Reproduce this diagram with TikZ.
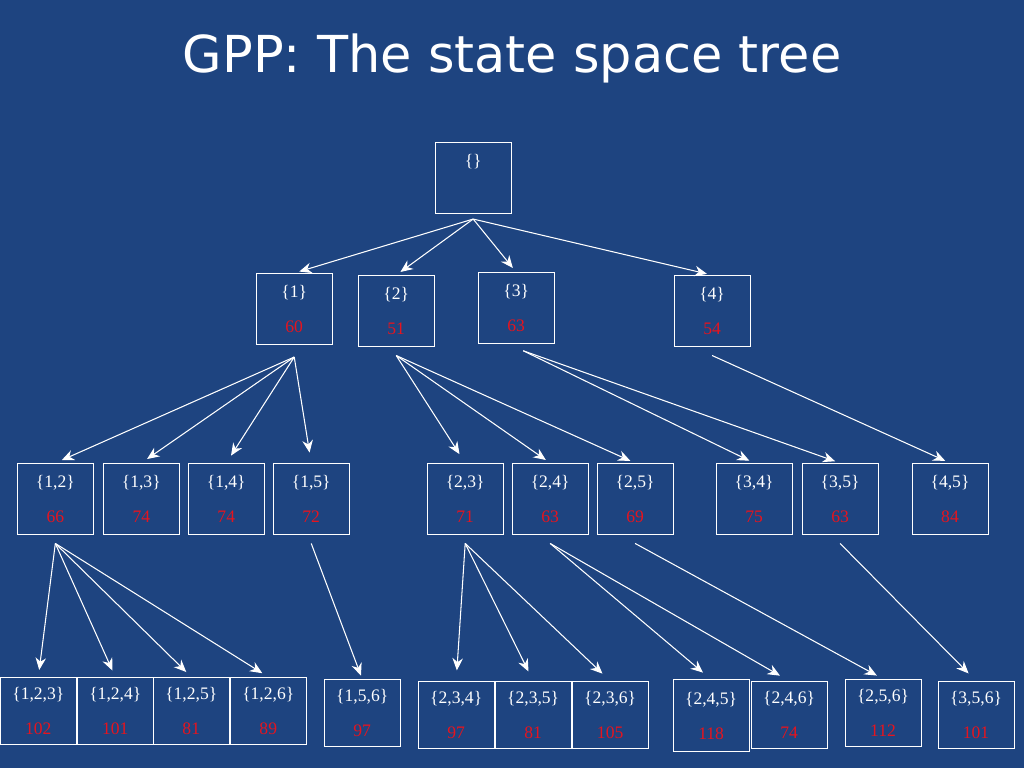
\documentclass[tikz,border=0pt]{standalone}
\usepackage{fontspec}
\setmainfont{Liberation Serif}
\newfontfamily\titlefont{DejaVu Sans}
\usetikzlibrary{arrows.meta}
\definecolor{bgblue}{RGB}{30,68,128}
\definecolor{numred}{RGB}{230,20,30}
\newcommand{\stlab}[2]{\{#1\}\\[9pt]{\color{numred}#2}}
\begin{document}
\begin{tikzpicture}[x=0.02cm,y=-0.02cm]
    \tikzset{state/.style={draw=white,thin,rectangle,align=center,text=white,
        font=\fontsize{10}{11}\selectfont,minimum width=1.52cm,minimum height=1.42cm,inner sep=0pt},
      arr/.style={-{Stealth[length=7pt,width=6pt]},white,line width=0.6pt}}
    \fill[bgblue] (0,0) rectangle (1024,768);
    \node [white,font=\titlefont\fontsize{29}{30}\selectfont] (title) at (512,58) {GPP: The state space tree};
    % root and first level
    \node [state] (root) at (473,178) {};
    \node [white,font=\fontsize{10}{11}\selectfont] (rootlab) at (473,162) {\{\}};
    \node [state] (n1) at (294,309) {\stlab{1}{60}};
    \node [state] (n2) at (396,311) {\stlab{2}{51}};
    \node [state] (n3) at (516,308) {\stlab{3}{63}};
    \node [state] (n4) at (712,311) {\stlab{4}{54}};
    % second level
    \node [state] (n12) at (55,499) {\stlab{1,2}{66}};
    \node [state] (n13) at (141,499) {\stlab{1,3}{74}};
    \node [state] (n14) at (226,499) {\stlab{1,4}{74}};
    \node [state] (n15) at (311,499) {\stlab{1,5}{72}};
    \node [state] (n23) at (465,499) {\stlab{2,3}{71}};
    \node [state] (n24) at (550,499) {\stlab{2,4}{63}};
    \node [state] (n25) at (635,499) {\stlab{2,5}{69}};
    \node [state] (n34) at (754,499) {\stlab{3,4}{75}};
    \node [state] (n35) at (840,499) {\stlab{3,5}{63}};
    \node [state] (n45) at (950,499) {\stlab{4,5}{84}};
    % third level
    \node [state,minimum height=1.34cm] (n123) at (38,711) {\stlab{1,2,3}{102}};
    \node [state,minimum height=1.34cm] (n124) at (115,711) {\stlab{1,2,4}{101}};
    \node [state,minimum height=1.34cm] (n125) at (191,711) {\stlab{1,2,5}{81}};
    \node [state,minimum height=1.34cm] (n126) at (268,711) {\stlab{1,2,6}{89}};
    \node [state,minimum height=1.34cm] (n156) at (362,713) {\stlab{1,5,6}{97}};
    \node [state,minimum height=1.34cm] (n234) at (456,715) {\stlab{2,3,4}{97}};
    \node [state,minimum height=1.34cm] (n235) at (533,715) {\stlab{2,3,5}{81}};
    \node [state,minimum height=1.34cm] (n236) at (610,715) {\stlab{2,3,6}{105}};
    \node [state,minimum height=1.44cm] (n245) at (711,716) {\stlab{2,4,5}{118}};
    \node [state,minimum height=1.34cm] (n246) at (789,715) {\stlab{2,4,6}{74}};
    \node [state,minimum height=1.34cm] (n256) at (883,713) {\stlab{2,5,6}{112}};
    \node [state,minimum height=1.34cm] (n356) at (976,715) {\stlab{3,5,6}{101}};

    \draw [arr,shorten >=3pt] ([yshift=-3pt]root.south) -- (n1.north);
    \draw [arr,shorten >=3pt] ([yshift=-3pt]root.south) -- (n2.north);
    \draw [arr,shorten >=3pt] ([yshift=-3pt]root.south) -- (n3.north);
    \draw [arr,shorten >=3pt] ([yshift=-3pt]root.south) -- (n4.north);
    \draw [arr,shorten >=4pt] ([yshift=-7pt]n1.south) -- (n12.north);
    \draw [arr,shorten >=4pt] ([yshift=-7pt]n1.south) -- (n13.north);
    \draw [arr,shorten >=5pt] ([yshift=-7pt]n1.south) -- (n14.north);
    \draw [arr,shorten >=6pt] ([yshift=-7pt]n1.south) -- (n15.north);
    \draw [arr,shorten >=6pt] ([yshift=-5pt]n2.south) -- (n23.north);
    \draw [arr,shorten >=3pt] ([yshift=-5pt]n2.south) -- (n24.north);
    \draw [arr,shorten >=3pt] ([yshift=-5pt]n2.south) -- (n25.north);
    \draw [arr,shorten >=3pt] ([shift={(4pt,-4pt)}]n3.south) -- (n34.north);
    \draw [arr,shorten >=3pt] ([shift={(4pt,-4pt)}]n3.south) -- (n35.north);
    \draw [arr,shorten >=3pt] ([yshift=-5pt]n4.south) -- (n45.north);
    \draw [arr,shorten >=4pt] ([yshift=-5pt]n12.south) -- (n123.north);
    \draw [arr,shorten >=4pt] ([yshift=-5pt]n12.south) -- (n124.north);
    \draw [arr,shorten >=4pt] ([yshift=-5pt]n12.south) -- (n125.north);
    \draw [arr,shorten >=4pt] ([yshift=-5pt]n12.south) -- (n126.north);
    \draw [arr,shorten >=2pt] ([yshift=-5pt]n15.south) -- (n156.north);
    \draw [arr,shorten >=6pt] ([yshift=-5pt]n23.south) -- (n234.north);
    \draw [arr,shorten >=6pt] ([yshift=-5pt]n23.south) -- (n235.north);
    \draw [arr,shorten >=6pt] ([yshift=-5pt]n23.south) -- (n236.north);
    \draw [arr,shorten >=6pt] ([yshift=-5pt]n24.south) -- (n245.north);
    \draw [arr,shorten >=6pt] ([yshift=-5pt]n24.south) -- (n246.north);
    \draw [arr,shorten >=4pt] ([yshift=-5pt]n25.south) -- (n256.north);
    \draw [arr,shorten >=6pt] ([yshift=-5pt]n35.south) -- (n356.north);
\end{tikzpicture}
\end{document}
